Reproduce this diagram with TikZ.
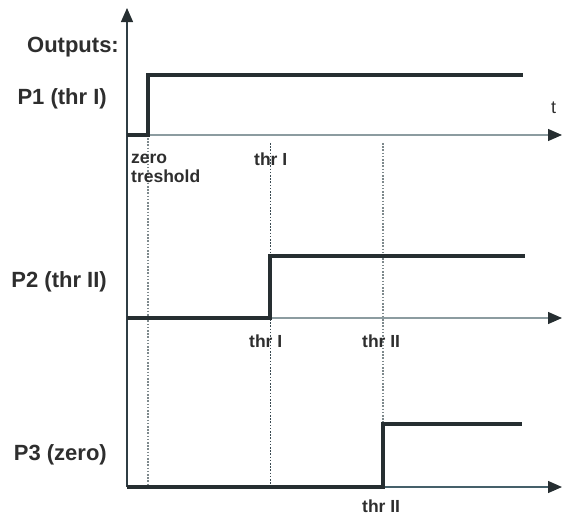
\documentclass[tikz,border=0pt]{standalone}
\usepackage{fontspec}
\setmainfont{Liberation Sans}
\usetikzlibrary{arrows.meta}
\definecolor{sig}{HTML}{262E31}
\definecolor{vax}{HTML}{2F3D44}
\definecolor{hax}{HTML}{8C9CA0}
\definecolor{hax3}{HTML}{45606A}
\definecolor{txt}{HTML}{2E2E2E}
\definecolor{dotg}{HTML}{7E898C}
\definecolor{dotd}{HTML}{3A4A52}
\tikzset{
  axisline/.style={line width=1.3pt,-{Triangle[length=14pt,width=12pt,color=sig,fill=sig]}},
  signal/.style={line width=4pt,color=sig,line join=miter},
  guide/.style={line width=1.1pt,dash pattern=on 1.6pt off 1.6pt},
  biglabel/.style={font=\bfseries\fontsize{22}{24}\selectfont,text=txt,inner sep=0pt},
  smalllabel/.style={font=\bfseries\fontsize{17.5}{19}\selectfont,text=txt,inner sep=0pt},
}
\begin{document}
\begin{tikzpicture}[x=1pt,y=-1pt]
\useasboundingbox (0,0) rectangle (562,517);
% coordinates
\coordinate (vbot) at (127,487);
\coordinate (vtop) at (127,8);
\coordinate (a1s) at (127,135); \coordinate (a1e) at (562,135);
\coordinate (a2s) at (127,318); \coordinate (a2e) at (562,318);
\coordinate (a3s) at (127,487); \coordinate (a3e) at (562,487);
% guide lines
\coordinate (g1t) at (148,138); \coordinate (g1b) at (148,487);
\coordinate (g2t) at (270,143); \coordinate (g2b) at (270,487);
\coordinate (g3t) at (383,143); \coordinate (g3b) at (383,424);
\draw[guide,dotg] (g1t) -- (g1b);
\draw[guide,dotd,line width=0.8pt] (g2t) -- (g2b);
\draw[guide,dotg] (g3t) -- (g3b);
% axes
\draw[axisline,hax] (a1s) -- (a1e);
\draw[axisline,hax] (a2s) -- (a2e);
\draw[axisline,hax3] (a3s) -- (a3e);
\draw[axisline,vax] (vbot) -- (vtop);
% signals
\draw[signal] (a1s) -- (148,135) -- (148,75) -- (523,75);
\draw[signal] (a2s) -- (270,318) -- (270,256) -- (525,256);
\draw[signal] (a3s) -- (383,487) -- (383,424) -- (522,424);
% labels
\node[biglabel,anchor=base east] (lout) at (119,52) {Outputs:};
\node[biglabel,anchor=base east] (lp1) at (107,104) {P1 (thr I)};
\node[biglabel,anchor=base east] (lp2) at (107,287) {P2 (thr II)};
\node[biglabel,anchor=base east] (lp3) at (107,460) {P3 (zero)};
\node[font=\fontsize{18}{20}\selectfont,text=txt,inner sep=0pt,anchor=base west] (lt) at (551,113) {t};
\node[smalllabel,anchor=base west] (lzero) at (131,163) {zero};
\node[smalllabel,anchor=base west] (ltres) at (131,182) {treshold};
\node[smalllabel,anchor=base west] (lthr1a) at (254,165) {thr I};
\node[smalllabel,anchor=base west] (lthr1b) at (249,347) {thr I};
\node[smalllabel,anchor=base west] (lthr2a) at (362,347) {thr II};
\node[smalllabel,anchor=base west] (lthr2b) at (362,512) {thr II};
\end{tikzpicture}
\end{document}
